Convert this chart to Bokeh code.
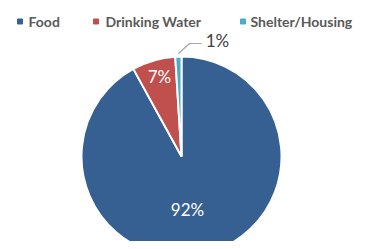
import math
from bokeh.plotting import figure
from bokeh.models import Range1d, ColumnDataSource
from bokeh.core.properties import value
from bokeh.embed import file_html
from bokeh.resources import INLINE

categories = ["Food", "Drinking Water", "Shelter/Housing"]
values = [92, 7, 1]
labels = ["92%", "7%", "1%"]
colors = ["#366092", "#C0504D", "#4BACC6"]

W, H = 358, 241
p = figure(width=W, height=H, output_backend="svg", toolbar_location=None,
           x_range=Range1d(0, W), y_range=Range1d(0, H), min_border=0)
p.axis.visible = False
p.grid.visible = False
p.outline_line_color = None
p.background_fill_color = "white"


def Y(py):
    return H - py


cx, cy, R = 181, Y(156), 100
total = sum(values)
cum = 0
starts, ends = [], []
for v in values:
    starts.append(math.pi / 2 - 2 * math.pi * cum / total)
    cum += v
    ends.append(math.pi / 2 - 2 * math.pi * cum / total)

src = ColumnDataSource(dict(x=[cx] * 3, y=[cy] * 3, start=starts, end=ends, color=colors))
p.wedge(x="x", y="y", radius=R, radius_units="screen", start_angle="start", end_angle="end",
        direction="clock", fill_color="color", line_color="white", line_width=2, source=src)

# inside labels
p.text(x=[187, 159], y=[Y(209), Y(76)], text=labels[:2], text_color="white",
       text_font=value("Lato"), text_font_size="17px", text_align="center", text_baseline="middle")
# outside label with leader
p.line(x=[178, 189, 201], y=[Y(53), Y(43), Y(43)], line_color="#A6A6A6", line_width=1.2)
p.text(x=[217], y=[Y(40)], text=labels[2:], text_color="#404040",
       text_font=value("Lato"), text_font_size="17px", text_align="center", text_baseline="middle")

# legend
lx = [19.5, 95.5, 242.5]
tx = [28, 105, 250]
ly = Y(21)
p.scatter(x=lx, y=[ly] * 3, marker="square", size=5, color=colors)
p.text(x=tx, y=[ly] * 3, text=categories, text_color="#595959", text_font=value("Lato"),
       text_font_style="bold", text_font_size="14px", text_baseline="middle")

open("out.html", "w").write(file_html(p, INLINE))
